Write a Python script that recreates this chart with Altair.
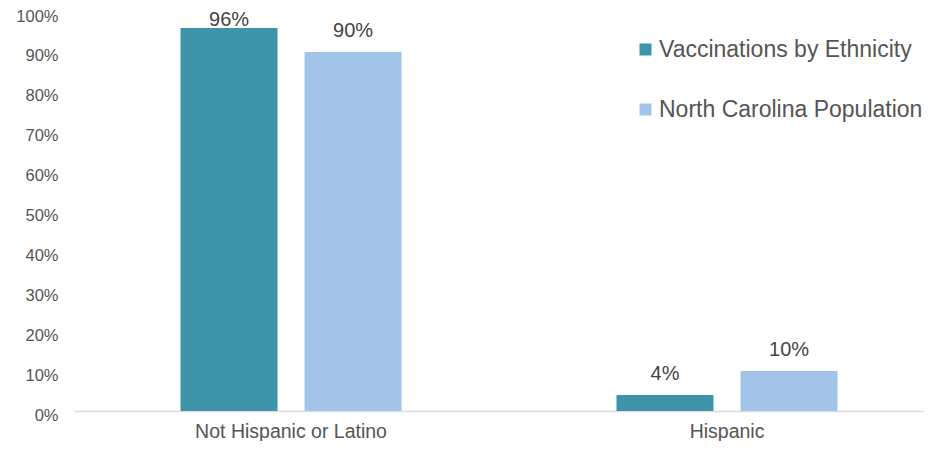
import altair as alt
import pandas as pd

categories = ["Not Hispanic or Latino", "Hispanic"]
series = ["Vaccinations by Ethnicity", "North Carolina Population"]
vaccinations = [96, 4]
population = [90, 10]
y_ticks = [0, 10, 20, 30, 40, 50, 60, 70, 80, 90, 100]

rows = []
for i, c in enumerate(categories):
    rows.append({"category": c, "series": series[0], "value": vaccinations[i]})
    rows.append({"category": c, "series": series[1], "value": population[i]})
df = pd.DataFrame(rows)

FONT = "Liberation Sans"
colors = ["#3e95a9", "#a3c4e9"]

y_axis = alt.Axis(values=y_ticks, tickCount=11, labelExpr="datum.value + '%'", ticks=False,
                  domain=False, grid=False, labelFontSize=16.5,
                  labelOverlap=False,
                  labelColor="#555555", labelFont=FONT, labelPadding=16,
                  labelOffset=4)
y_scale = alt.Scale(domain=[0, 100], nice=False)

x = alt.X("category:N", sort=categories, title=None,
          scale=alt.Scale(paddingInner=0.493, paddingOuter=0.2213, align=0.552),
          axis=alt.Axis(labelAngle=0, ticks=False, domain=True, domainColor="#dcdcdc",
                        domainWidth=1.5, labelFontSize=19.5, labelColor="#555555",
                        labelFont=FONT, labelPadding=11, labelLimit=500, grid=False))
xo = alt.XOffset("series:N", sort=series,
                 scale=alt.Scale(paddingInner=0.218, paddingOuter=0))

bars = alt.Chart(df).mark_bar().encode(
    x=x,
    xOffset=xo,
    y=alt.Y("value:Q", title=None, scale=y_scale, axis=y_axis),
    color=alt.Color("series:N", sort=series,
                    scale=alt.Scale(domain=series, range=colors),
                    legend=alt.Legend(title=None, orient="none", legendX=560, legendY=26,
                                      symbolType="square", symbolSize=144,
                                      symbolStrokeWidth=0, labelFontSize=23,
                                      labelColor="#555555", labelFont=FONT,
                                      labelLimit=500,
                                      labelOffset=2, rowPadding=36, padding=0)),
)

labels = alt.Chart(df).transform_calculate(
    labelpos="min(datum.value + 2.76, 95.5)",
    labeltext="datum.value + '%'",
).mark_text(baseline="bottom", fontSize=20, color="#444444", font=FONT).encode(
    x=alt.X("category:N", sort=categories),
    xOffset=xo,
    y=alt.Y("labelpos:Q", title=None, scale=y_scale, axis=y_axis),
    text="labeltext:N",
)

chart = alt.layer(bars, labels).properties(
    width=850, height=399,
    autosize=alt.AutoSizeParams(type="none"),
    padding={"left": 66, "top": 4, "right": 0, "bottom": 30},
).configure_view(stroke=None)

chart.save("out.html", embed_options={"renderer": "svg", "actions": False})
